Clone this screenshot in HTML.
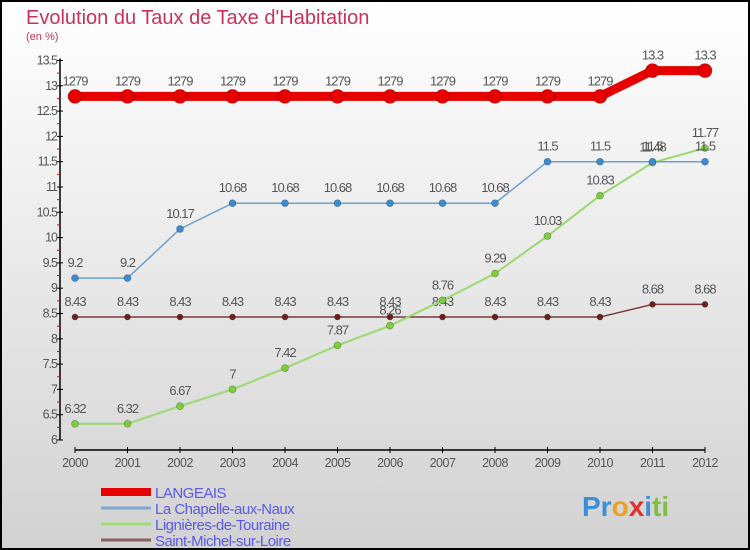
<!DOCTYPE html>
<html><head><meta charset="utf-8"><style>
body{margin:0}
#c{width:750px;height:550px;position:relative;box-sizing:border-box;border:2px solid #000;background:linear-gradient(#ffffff,#d2d2d2);overflow:hidden;font-family:"Liberation Sans",sans-serif}
</style></head><body>
<div id="c">
<svg id="s" width="746" height="546" viewBox="2 2 746 546" xmlns="http://www.w3.org/2000/svg">
<text x="26" y="24" font-size="20" fill="#c8325a">Evolution du Taux de Taxe d'Habitation</text>
<text x="26" y="40" font-size="11" fill="#c8325a">(en %)</text>
<g id="g"></g>
</svg>
</div>
<script>
const years=[2000,2001,2002,2003,2004,2005,2006,2007,2008,2009,2010,2011,2012];
const langeais=[12.79,12.79,12.79,12.79,12.79,12.79,12.79,12.79,12.79,12.79,12.79,13.3,13.3];
const chapelle=[9.2,9.2,10.17,10.68,10.68,10.68,10.68,10.68,10.68,11.5,11.5,11.5,11.5];
const lignieres=[6.32,6.32,6.67,7,7.42,7.87,8.26,8.76,9.29,10.03,10.83,11.48,11.77];
const stmichel=[8.43,8.43,8.43,8.43,8.43,8.43,8.43,8.43,8.43,8.43,8.43,8.68,8.68];
const yTicks=[6,6.5,7,7.5,8,8.5,9,9.5,10,10.5,11,11.5,12,12.5,13,13.5];
const NS="http://www.w3.org/2000/svg",g=document.getElementById('g');
const X=i=>75+i*52.5, Y=v=>440-(v-6)*50.6;
function mk(t,a,p){const e=document.createElementNS(NS,t);for(const k in a)e.setAttribute(k,a[k]);(p||g).appendChild(e);return e;}
function fmt(v){return String(v).replace('12.79','1279');}
let ax=mk('line',{x1:60,y1:Y(13.5)-2,x2:60,y2:440,stroke:'#000','stroke-width':1.5});


let xa=mk('line',{x1:75,y1:450,x2:705,y2:450,stroke:'#000','stroke-width':1.5});


yTicks.forEach((v,i)=>{
 mk('line',{x1:57,y1:Y(v),x2:63,y2:Y(v),stroke:'#000'});
 if(i<yTicks.length-1)mk('line',{x1:57,y1:Y(v+0.25),x2:60,y2:Y(v+0.25),stroke:'#e00'});
 const t=mk('text',{x:57,y:Y(v)+4,'font-size':12.5,'text-anchor':'end',fill:'#555','letter-spacing':'-1'});t.textContent=v;
 
 
});
years.forEach((y,i)=>{
 mk('line',{x1:X(i),y1:447,x2:X(i),y2:453,stroke:'#000'});
 const t=mk('text',{x:X(i),y:467,'font-size':12.5,'text-anchor':'middle',fill:'#555','letter-spacing':'-0.5'});t.textContent=y;
 
 
});
function series(d,col,w,r,name,dot){
 const gg=mk('g',{});
 
 
 mk('polyline',{points:d.map((v,i)=>X(i)+','+Y(v)).join(' '),fill:'none',stroke:col,'stroke-width':w},gg);
 d.forEach((v,i)=>{
  const c=mk('circle',{cx:X(i),cy:Y(v),r:r,fill:dot,stroke:'rgba(0,0,0,0.3)','stroke-width':0.7},gg);
  
  
  const t=mk('text',{x:X(i),y:Y(v)-11,'font-size':13,'text-anchor':'middle',fill:'#555','letter-spacing':'-1'},gg);t.textContent=fmt(v);
  
  
 });
}
series(stmichel,'#7a3a3a',1.5,3,'saint-michel-series','#6a2020');
series(lignieres,'#9ad870',2,3.5,'lignieres-series','#7ccf3a');
series(chapelle,'#6fa0cc',1.5,3.5,'chapelle-series','#3d8ad0');
series(langeais,'#e60000',9,7,'langeais-series','#e60000');
const leg=[['LANGEAIS','#e60000',8],['La Chapelle-aux-Naux','#7fa8cc',3],['Lignières-de-Touraine','#a0dc78',3],['Saint-Michel-sur-Loire','#8a6060',3]];
leg.forEach((l,i)=>{
 const y=492+i*16;
 const ln=mk('line',{x1:101,y1:y,x2:151,y2:y,stroke:l[1],'stroke-width':l[2]});
 
 
 const t=mk('text',{x:155,y:y+6,'font-size':15,fill:'#5a5ae6','letter-spacing':'-0.5'});t.textContent=l[0];
 
 
});
const p=mk('text',{x:582,y:516,'font-size':28,'font-weight':'bold',fill:'#3b8fd8'});
p.innerHTML='<tspan fill="#3b8fd8">Pr</tspan><tspan fill="#f0a020">o</tspan><tspan fill="#e03030">x</tspan><tspan fill="#3b8fd8">i</tspan><tspan fill="#80c040">ti</tspan>';


</script>
</body></html>
